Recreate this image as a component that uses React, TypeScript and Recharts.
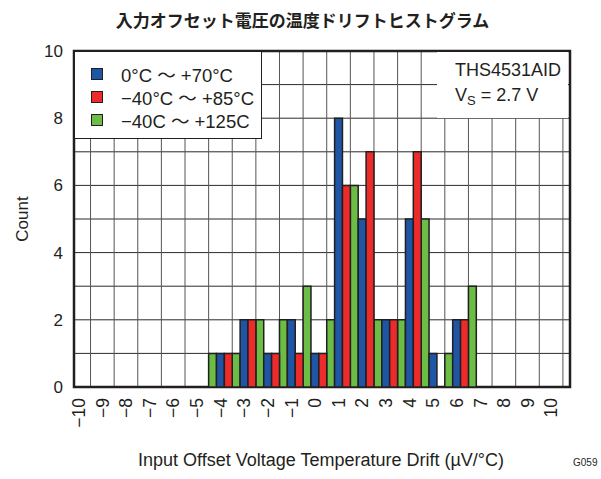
import React from "react";
import { BarChart, Bar, XAxis, YAxis, CartesianGrid, ReferenceArea } from "recharts";

const FONT = '"Liberation Sans", Arial, "Noto Sans CJK JP", sans-serif';
const JP_FONT = '"Noto Sans CJK JP", "Liberation Sans", sans-serif';
const INK = "#231f20";

// histogram bins (µV/°C) and counts per temperature range
const bins = [-4, -3, -2, -1, 0, 1, 2, 3, 4, 5, 6, 7];
const count0to70 = [1, 2, 1, 2, 1, 8, 5, 2, 5, 1, 2, 0];
const countM40to85 = [1, 2, 1, 1, 1, 6, 7, 2, 7, 0, 2, 0];
const countM40to125 = [1, 1, 2, 2, 3, 2, 6, 2, 2, 5, 1, 3];

const xTicks = [-10, -9, -8, -7, -6, -5, -4, -3, -2, -1, 0, 1, 2, 3, 4, 5, 6, 7, 8, 9, 10];
const yTicks = [0, 1, 2, 3, 4, 5, 6, 7, 8, 9, 10];
const xDomain = [-10.2, 10.8];

const legendItems = [
  { label: "0°C 〜 +70°C", color: "#1f55a5" },
  { label: "−40°C 〜 +85°C", color: "#ee2b2b" },
  { label: "−40C 〜 +125C", color: "#6bbd45" },
];

const rows = bins.map((bin, i) => ({
  bin,
  g: countM40to125[i],
  b: count0to70[i],
  r: countM40to85[i],
}));

// grid lines sit on the bin edges
const binEdges = xTicks.map((t) => t + 0.5);

const fmt = (v: number) => (v < 0 ? "−" + Math.abs(v) : String(v));

const XTick = ({ x, y, payload }: any) => (
  <text
    x={x}
    y={y + 3}
    transform={`rotate(-90 ${x} ${y + 3})`}
    textAnchor="end"
    dy="0.36em"
    fontSize={17.5}
    fill={INK}
    fontFamily={FONT}
  >
    {fmt(payload.value)}
  </text>
);

export default function App() {
  return (
    <div
      style={{
        position: "absolute",
        left: 0,
        top: 0,
        width: 601,
        height: 479,
        background: "#fff",
        fontFamily: FONT,
        color: INK,
      }}
    >
      <BarChart
        width={601}
        height={479}
        data={rows}
        margin={{ top: 51, right: 31, bottom: 32, left: 34 }}
        barGap={0}
        barCategoryGap={0}
      >
        <CartesianGrid vertical={false} stroke="#2a2a2a" strokeWidth={1} />
        <CartesianGrid horizontal={false} verticalValues={binEdges} stroke="#555" strokeWidth={1} />
        <XAxis
          dataKey="bin"
          type="number"
          domain={xDomain}
          ticks={xTicks}
          interval={0}
          allowDataOverflow
          tickLine={false}
          axisLine={false}
          height={60}
          tick={<XTick />}
        />
        <YAxis
          type="number"
          domain={[0, 10]}
          ticks={yTicks}
          interval={0}
          width={40}
          tickLine={false}
          axisLine={false}
          tickMargin={5}
          tickFormatter={(v: number) => (v % 2 === 0 ? String(v) : "")}
          tick={{ fontSize: 17, fill: INK, fontFamily: FONT }}
        />
        <Bar dataKey="g" fill="#6bbd45" stroke={INK} strokeWidth={1.5} barSize={7.87} isAnimationActive={false} />
        <Bar dataKey="b" fill="#1f55a5" stroke={INK} strokeWidth={1.5} barSize={7.87} isAnimationActive={false} />
        <Bar dataKey="r" fill="#ee2b2b" stroke={INK} strokeWidth={1.5} barSize={7.87} isAnimationActive={false} />
        <ReferenceArea
          x1={xDomain[0]}
          x2={xDomain[1]}
          y1={0}
          y2={10}
          fill="none"
          fillOpacity={0}
          stroke={INK}
          strokeWidth={2.5}
        />
      </BarChart>

      {/* title */}
      <div
        style={{
          position: "absolute",
          left: 2,
          top: 9,
          width: 601,
          height: 22,
          lineHeight: "22px",
          textAlign: "center",
          fontFamily: JP_FONT,
          fontWeight: 700,
          fontSize: 17,
        }}
      >
        入力オフセット電圧の温度ドリフトヒストグラム
      </div>

      {/* legend */}
      <div
        style={{
          position: "absolute",
          left: 74,
          top: 51,
          width: 188,
          height: 88,
          boxSizing: "border-box",
          border: `1.5px solid ${INK}`,
          background: "#fff",
        }}
      >
        {legendItems.map((item, i) => (
          <div
            key={item.label}
            style={{
              position: "absolute",
              left: 16,
              top: 11 + i * 23,
              height: 22,
              display: "flex",
              alignItems: "center",
              whiteSpace: "nowrap",
            }}
          >
            <span
              style={{
                display: "inline-block",
                width: 12,
                height: 12,
                boxSizing: "border-box",
                border: `1px solid ${INK}`,
                background: item.color,
                marginRight: 18,
              }}
            />
            <span style={{ fontSize: 18.5 }}>{item.label}</span>
          </div>
        ))}
      </div>

      {/* device note */}
      <div
        style={{
          position: "absolute",
          left: 437,
          top: 52,
          width: 131,
          height: 66,
          background: "#fff",
          fontSize: 18,
        }}
      >
        <div style={{ position: "absolute", left: 18, top: 7, lineHeight: "22px" }}>THS4531AID</div>
        <div style={{ position: "absolute", left: 18, top: 32, lineHeight: "22px", whiteSpace: "nowrap" }}>
          V<span style={{ fontSize: 13, position: "relative", top: 4 }}>S</span> = 2.7 V
        </div>
      </div>

      {/* axis titles */}
      <div
        style={{
          position: "absolute",
          left: -27,
          top: 209,
          width: 100,
          height: 20,
          lineHeight: "20px",
          textAlign: "center",
          fontSize: 17,
          transform: "rotate(-90deg)",
        }}
      >
        Count
      </div>
      <div
        style={{
          position: "absolute",
          left: 71,
          top: 450,
          width: 500,
          height: 20,
          lineHeight: "20px",
          textAlign: "center",
          fontSize: 18,
        }}
      >
        Input Offset Voltage Temperature Drift (µV/°C)
      </div>
      <div style={{ position: "absolute", left: 573, top: 456, fontSize: 10, lineHeight: "14px" }}>G059</div>
    </div>
  );
}
